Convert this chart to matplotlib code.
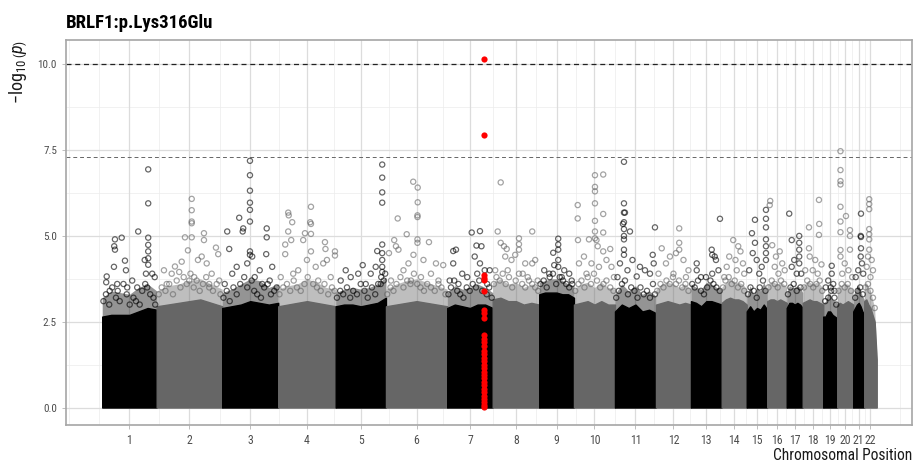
import numpy as np
import matplotlib.pyplot as plt

# ------------------------------------------------------------------
# data
# ------------------------------------------------------------------
TITLE = "BRLF1:p.Lys316Glu"
CHROMS = [str(i) for i in range(1, 23)]
# chromosome widths on the x axis (arbitrary position units)
CHR_LEN = [218, 262, 224, 230, 201, 245, 182, 186, 139, 164, 164,
           140, 123, 100, 82, 78, 64, 82, 56, 64, 44, 50]

# top of the solid mass of points, 7 evenly spaced samples per chromosome
BODY_TOP = [
    [2.65, 2.7, 2.7, 2.7, 2.8, 2.9, 2.85],
    [2.95, 3.0, 3.05, 3.1, 3.15, 3.05, 2.95],
    [2.9, 2.95, 3.0, 3.1, 3.05, 3.0, 3.05],
    [2.95, 3.0, 3.05, 3.1, 3.05, 3.0, 2.95],
    [2.95, 3.0, 3.0, 2.95, 3.0, 3.05, 3.2],
    [2.95, 3.0, 3.05, 3.1, 3.05, 3.0, 2.95],
    [2.9, 3.0, 2.95, 2.9, 3.0, 3.0, 2.9],
    [3.15, 3.2, 3.1, 3.1, 3.0, 3.05, 3.0],
    [3.3, 3.35, 3.35, 3.35, 3.3, 3.3, 3.2],
    [3.0, 3.05, 3.1, 3.0, 3.1, 3.0, 3.0],
    [2.8, 3.0, 2.9, 3.0, 2.8, 2.85, 2.75],
    [3.0, 3.05, 3.1, 3.05, 3.0, 3.05, 3.0],
    [3.1, 3.05, 2.95, 3.1, 3.1, 3.05, 3.0],
    [3.05, 3.15, 3.2, 3.15, 3.15, 3.1, 3.0],
    [2.8, 2.95, 2.8, 2.9, 2.85, 3.0, 2.85],
    [3.1, 3.15, 3.15, 3.1, 3.15, 3.1, 3.05],
    [2.9, 3.05, 3.05, 3.0, 3.05, 3.0, 2.9],
    [3.05, 3.1, 3.15, 3.1, 3.1, 3.05, 3.0],
    [2.65, 2.65, 2.8, 2.8, 2.7, 2.65, 2.6],
    [3.0, 3.05, 3.0, 3.05, 3.1, 3.05, 3.0],
    [2.8, 2.9, 3.0, 3.05, 2.95, 2.8, 2.7],
    [3.1, 3.15, 3.0, 2.9, 2.7, 2.5, 1.4],
]

# haze of overlapping circles above the solid mass
FUZZ_TOP = [
    [3.2, 3.4, 3.35, 3.3, 3.5, 3.6, 3.4],
    [3.4, 3.55, 3.6, 3.7, 3.75, 3.6, 3.45],
    [3.35, 3.45, 3.6, 3.75, 3.7, 3.5, 3.6],
    [3.45, 3.55, 3.6, 3.75, 3.65, 3.5, 3.45],
    [3.35, 3.45, 3.5, 3.45, 3.5, 3.6, 3.8],
    [3.45, 3.6, 3.7, 3.75, 3.65, 3.55, 3.45],
    [3.35, 3.55, 3.45, 3.5, 3.6, 3.5, 3.35],
    [3.65, 3.75, 3.6, 3.65, 3.5, 3.6, 3.5],
    [3.65, 3.7, 3.75, 3.75, 3.7, 3.6, 3.55],
    [3.45, 3.6, 3.65, 3.5, 3.65, 3.5, 3.45],
    [3.3, 3.6, 3.4, 3.55, 3.3, 3.4, 3.25],
    [3.45, 3.6, 3.65, 3.6, 3.5, 3.6, 3.45],
    [3.6, 3.5, 3.45, 3.65, 3.6, 3.5, 3.45],
    [3.5, 3.65, 3.75, 3.65, 3.65, 3.6, 3.45],
    [3.25, 3.55, 3.3, 3.5, 3.4, 3.65, 3.4],
    [3.6, 3.65, 3.65, 3.6, 3.65, 3.6, 3.5],
    [3.35, 3.55, 3.5, 3.5, 3.55, 3.5, 3.35],
    [3.5, 3.65, 3.65, 3.6, 3.65, 3.6, 3.45],
    [3.05, 3.1, 3.35, 3.3, 3.15, 3.1, 3.05],
    [3.45, 3.6, 3.5, 3.6, 3.6, 3.5, 3.45],
    [3.25, 3.4, 3.55, 3.55, 3.4, 3.25, 3.15],
    [3.55, 3.65, 3.5, 3.4, 3.15, 2.9, 1.6],
]

# circles in the ragged band just above the solid mass
BAND_POS = [
    [5, 15, 28, 40, 55, 62, 70, 85, 98, 110, 125, 135, 150, 160, 172, 180, 192, 205, 212],
    [8, 20, 35, 50, 65, 80, 95, 108, 120, 135, 148, 160, 172, 185, 198, 210, 225, 240, 255],
    [5, 18, 30, 45, 58, 72, 88, 100, 118, 128, 140, 155, 168, 182, 195, 208, 218],
    [5, 20, 35, 48, 62, 75, 90, 105, 118, 140, 155, 170, 185, 200, 215, 225],
    [5, 18, 30, 45, 58, 70, 85, 100, 115, 128, 145, 158, 170, 182, 192, 198],
    [5, 18, 30, 42, 58, 70, 85, 98, 112, 125, 138, 152, 165, 180, 195, 210, 222, 238],
    [5, 15, 28, 40, 52, 65, 78, 90, 102, 115, 128, 140, 158, 168, 178],
    [5, 15, 28, 40, 52, 65, 78, 92, 105, 118, 130, 145, 158, 170, 182],
    [5, 18, 30, 42, 55, 68, 82, 95, 108, 120, 132],
    [5, 18, 30, 42, 55, 68, 80, 92, 105, 118, 130, 145, 158],
    [5, 15, 28, 40, 52, 65, 78, 90, 102, 115, 128, 140, 152, 160],
    [5, 18, 30, 42, 55, 68, 80, 92, 105, 118, 130],
    [5, 15, 28, 40, 52, 65, 78, 90, 102, 115],
    [5, 15, 28, 40, 52, 65, 78, 90],
    [5, 15, 28, 40, 52, 65, 75],
    [5, 18, 30, 42, 55, 68],
    [5, 15, 28, 40, 55],
    [5, 18, 30, 42, 55, 68, 78],
    [8, 20, 32, 45, 52],
    [5, 18, 30, 42, 55],
    [8, 18, 28, 38],
    [5, 15, 25, 35, 42],
]
BAND_LOGP = [
    [3.1, 3.3, 3.0, 3.5, 3.2, 3.4, 3.1, 3.6, 3.3, 3.0, 3.2, 3.1, 3.0, 3.4, 3.6, 3.5, 3.3, 3.2, 3.0],
    [3.3, 3.5, 3.4, 3.6, 3.3, 3.7, 3.5, 3.8, 3.6, 3.9, 3.5, 3.7, 3.4, 3.6, 3.8, 3.5, 3.4, 3.6, 3.3],
    [3.2, 3.4, 3.1, 3.5, 3.3, 3.6, 3.8, 3.5, 3.7, 3.4, 3.3, 3.2, 3.5, 3.6, 3.3, 3.4, 3.5],
    [3.3, 3.5, 3.6, 3.4, 3.7, 3.5, 3.4, 3.6, 3.8, 3.6, 3.5, 3.4, 3.6, 3.3, 3.5, 3.4],
    [3.2, 3.4, 3.3, 3.5, 3.2, 3.4, 3.3, 3.6, 3.4, 3.2, 3.5, 3.3, 3.6, 3.8, 3.7, 3.9],
    [3.3, 3.5, 3.4, 3.6, 3.8, 3.5, 3.7, 3.6, 3.9, 3.6, 3.5, 3.4, 3.6, 3.5, 3.4, 3.6, 3.5, 3.3],
    [3.3, 3.5, 3.7, 3.4, 3.3, 3.2, 3.5, 3.4, 3.6, 3.5, 3.7, 3.4, 3.3, 3.5, 3.2],
    [3.6, 3.8, 3.7, 3.9, 3.6, 3.8, 3.5, 3.7, 3.9, 3.6, 3.5, 3.7, 3.6, 3.5, 3.4],
    [3.6, 3.7, 3.5, 3.8, 3.9, 3.6, 3.8, 3.7, 3.6, 3.5, 3.6],
    [3.4, 3.6, 3.7, 3.5, 3.8, 3.6, 3.9, 3.7, 3.5, 3.6, 3.7, 3.5, 3.4],
    [3.2, 3.4, 3.6, 3.7, 3.3, 3.5, 3.4, 3.2, 3.5, 3.3, 3.4, 3.2, 3.6, 3.3],
    [3.4, 3.6, 3.5, 3.7, 3.6, 3.8, 3.6, 3.7, 3.5, 3.6, 3.4],
    [3.6, 3.5, 3.7, 3.4, 3.3, 3.5, 3.7, 3.6, 3.5, 3.4],
    [3.5, 3.7, 3.8, 3.6, 3.7, 3.5, 3.6, 3.4],
    [3.3, 3.5, 3.4, 3.2, 3.5, 3.7, 3.4],
    [3.5, 3.7, 3.6, 3.5, 3.7, 3.6],
    [3.3, 3.5, 3.6, 3.4, 3.5],
    [3.5, 3.7, 3.6, 3.5, 3.6, 3.7, 3.4],
    [3.1, 3.2, 3.4, 3.2, 3.0],
    [3.4, 3.6, 3.5, 3.6, 3.4],
    [3.2, 3.4, 3.5, 3.3],
    [3.5, 3.6, 3.4, 3.2, 2.9],
]

# individual points higher up: position within chromosome, -log10(p)
PEAK_POS = [
    [184, 184, 184, 184, 184, 184, 184, 144, 51, 78, 48, 51, 91, 47, 18, 16, 95, 170, 175, 200, 210, 120, 60, 140, 30, 100],
    [140, 140, 140, 140, 113, 140, 189, 189, 237, 246, 73, 29, 125, 180, 165, 200, 100, 60, 90, 220, 150, 250, 40, 130, 210],
    [111, 111, 111, 111, 111, 111, 111, 111, 68, 84, 82, 20, 28, 178, 178, 176, 58, 120, 100, 150, 200, 40, 130, 190, 10, 160],
    [40, 42, 56, 40, 52, 28, 28, 131, 128, 131, 131, 107, 100, 131, 187, 189, 227, 227, 195, 180, 150, 80, 115, 60, 10, 210, 160],
    [186, 186, 186, 186, 186, 186, 186, 186, 186, 166, 108, 60, 90, 40, 140, 160, 20, 120, 180],
    [109, 127, 127, 126, 126, 126, 126, 47, 83, 33, 172, 40, 50, 110, 12, 229, 150, 200, 90, 70, 180, 140, 20, 210, 100],
    [98, 131, 24, 35, 117, 137, 131, 24, 110, 60, 80, 150, 170, 10, 45, 160, 120],
    [32, 20, 158, 105, 105, 105, 32, 45, 56, 50, 158, 90, 75, 130, 170, 10, 60, 120, 140, 180],
    [76, 76, 56, 76, 76, 20, 76, 100, 120, 40, 60, 90, 130],
    [84, 84, 84, 84, 84, 84, 84, 117, 117, 117, 15, 15, 16, 90, 95, 117, 145, 60, 40, 130, 150, 70, 20, 100, 50, 160],
    [36, 36, 36, 36, 36, 36, 36, 36, 36, 32, 40, 60, 87, 151, 160, 155, 120, 100, 70, 20, 50, 140, 10],
    [93, 93, 93, 23, 56, 80, 110, 40, 130, 10, 70, 120],
    [116, 83, 85, 95, 23, 23, 85, 60, 110, 40, 100],
    [46, 66, 75, 30, 55, 85, 20, 60, 90, 10],
    [21, 33, 77, 77, 77, 77, 77, 77, 77, 33, 24, 40, 60, 10, 50],
    [12, 10, 20, 50, 35, 60, 70, 30, 45],
    [10, 20, 50, 50, 50, 50, 50, 30, 20, 58, 40],
    [25, 65, 66, 65, 25, 75, 28, 50, 40, 10, 60],
    [34, 34, 20, 40, 30, 10, 45],
    [13, 13, 13, 13, 13, 13, 13, 13, 13, 35, 51, 51, 51, 30, 45, 20, 60],
    [31, 30, 31, 31, 30, 35, 20, 10, 40],
    [20, 20, 20, 20, 20, 20, 20, 15, 30, 10, 35, 25],
]
PEAK_LOGP = [
    [6.94, 5.95, 4.95, 4.74, 4.55, 4.35, 4.16, 5.13, 4.9, 4.95, 4.7, 4.6, 4.28, 4.1, 3.82, 3.65, 4.0, 4.3, 3.9, 3.9, 3.8, 3.7, 3.6, 3.5, 3.4, 3.5],
    [6.08, 5.75, 5.42, 5.37, 4.96, 4.96, 5.08, 4.88, 4.66, 4.47, 4.11, 4.0, 4.58, 4.4, 4.3, 4.2, 4.25, 3.9, 3.95, 3.9, 3.8, 3.7, 3.6, 3.7, 3.6],
    [7.19, 6.77, 6.32, 5.97, 5.76, 5.42, 4.55, 4.45, 5.53, 5.22, 5.13, 5.13, 4.62, 5.22, 4.96, 4.47, 4.1, 4.4, 4.2, 4.0, 4.1, 3.9, 3.8, 3.7, 3.6, 3.6],
    [5.68, 5.6, 5.40, 5.13, 4.88, 4.75, 4.47, 5.85, 5.40, 5.35, 5.06, 5.08, 4.88, 4.55, 4.82, 4.62, 4.55, 4.43, 4.3, 4.2, 4.1, 4.0, 4.3, 3.9, 3.8, 3.8, 3.7],
    [7.08, 6.70, 6.27, 5.97, 4.75, 4.5, 4.3, 4.1, 3.95, 4.56, 4.15, 3.8, 3.9, 4.0, 3.9, 4.1, 3.7, 3.6, 3.6],
    [6.58, 6.41, 5.98, 5.6, 5.55, 4.9, 4.8, 5.51, 5.05, 4.88, 4.82, 4.7, 4.6, 4.45, 4.5, 4.15, 4.3, 4.2, 4.2, 4.0, 3.9, 3.8, 3.7, 3.7, 3.7],
    [5.10, 5.14, 4.56, 4.6, 4.72, 4.7, 4.2, 4.2, 4.4, 3.9, 3.8, 4.0, 4.0, 3.7, 3.6, 3.6, 3.9],
    [6.56, 5.13, 5.13, 4.93, 4.76, 4.6, 4.8, 4.7, 4.62, 4.4, 4.2, 4.45, 4.3, 4.2, 4.3, 4.0, 4.0, 3.9, 3.8, 3.7],
    [4.92, 4.75, 4.51, 4.6, 4.3, 4.0, 4.1, 4.0, 3.9, 3.9, 4.15, 3.8, 3.7],
    [6.77, 6.43, 6.3, 5.95, 5.44, 5.13, 4.93, 6.79, 5.64, 5.10, 5.90, 5.51, 4.88, 4.88, 4.7, 4.55, 4.62, 4.9, 4.4, 4.3, 4.1, 4.2, 4.2, 4.1, 3.9, 3.8],
    [7.16, 5.95, 5.68, 5.4, 5.2, 5.0, 4.9, 4.6, 4.45, 5.35, 5.68, 5.13, 3.82, 4.45, 5.25, 4.2, 4.0, 4.1, 4.3, 4.2, 4.0, 3.9, 3.8],
    [5.22, 4.8, 4.6, 4.64, 4.4, 4.5, 4.3, 4.2, 4.0, 3.9, 3.9, 3.8],
    [5.50, 4.6, 4.45, 4.4, 4.2, 4.0, 3.9, 3.8, 4.0, 3.8, 4.3],
    [4.88, 4.7, 4.55, 4.4, 4.3, 4.2, 4.1, 4.0, 3.9, 3.8],
    [5.08, 5.47, 5.76, 5.5, 5.25, 4.9, 4.7, 4.5, 4.3, 4.8, 4.5, 4.3, 4.1, 4.0, 3.9],
    [6.02, 5.9, 4.73, 4.55, 4.4, 4.2, 4.0, 4.1, 3.9],
    [5.65, 4.88, 5.0, 4.8, 4.6, 4.4, 4.2, 4.3, 4.1, 3.9, 3.9],
    [5.25, 6.05, 5.35, 5.03, 4.64, 4.17, 4.4, 4.3, 4.0, 4.0, 3.9],
    [4.13, 3.9, 3.7, 3.6, 3.5, 3.5, 3.4],
    [7.47, 6.92, 6.6, 6.5, 5.85, 5.42, 5.11, 4.59, 4.4, 5.58, 5.17, 5.0, 4.6, 4.2, 4.0, 3.9, 3.8],
    [5.65, 5.0, 4.97, 4.64, 4.4, 4.2, 4.0, 3.8, 3.9],
    [6.07, 5.93, 5.78, 5.2, 5.05, 4.9, 4.6, 4.4, 4.3, 4.1, 4.0, 3.8],
]

# highlighted variant column (red) on chromosome 7
HIT_CHR = "7"
HIT_POS = 147
HIT_LOGP = [10.17, 7.94, 3.85, 3.78, 3.72, 3.41, 2.85, 2.75, 2.6, 2.1, 2.0, 1.9, 1.8,
            1.65, 1.55, 1.45, 1.35, 1.25, 1.15, 1.05, 0.95, 0.85, 0.75, 0.65,
            0.55, 0.45, 0.35, 0.25, 0.15, 0.08, 0.03]

GENOME_WIDE = 10.0
SUGGESTIVE = 7.3

# ------------------------------------------------------------------
plt.rcParams['font.family'] = ['Roboto Condensed', 'DejaVu Sans']
plt.rcParams['mathtext.fontset'] = 'custom'
plt.rcParams['mathtext.rm'] = 'Roboto Condensed'
plt.rcParams['mathtext.it'] = 'Roboto Condensed:italic'

fig = plt.figure(figsize=(9.16, 4.63), dpi=100)
ax = fig.add_axes([0.072, 0.082, 0.9236, 0.8316])

starts = np.concatenate([[0], np.cumsum(CHR_LEN)[:-1]])
total = float(np.sum(CHR_LEN))
centers = starts + np.array(CHR_LEN) / 2.0
colors = ['#000000' if i % 2 == 0 else '#666666' for i in range(len(CHROMS))]

# grid (ggplot theme_light look), minor breaks halfway between majors
step = centers[1] - centers[0]
ext = np.concatenate([[centers[0] - step], centers, [centers[-1] + step]])
xminor = np.sort(np.concatenate([ext, (ext[:-1] + ext[1:]) / 2]))
for xv in xminor:
    ax.axvline(xv, color='#ececec', lw=0.5, zorder=0)
for yv in [1.25, 3.75, 6.25, 8.75]:
    ax.axhline(yv, color='#ececec', lw=0.5, zorder=0)
for xv in centers:
    ax.axvline(xv, color='#dcdcdc', lw=0.9, zorder=0)
for yv in [0, 2.5, 5, 7.5, 10]:
    ax.axhline(yv, color='#dcdcdc', lw=0.9, zorder=0)

for i, ch in enumerate(CHROMS):
    s, L, c = starts[i], CHR_LEN[i], colors[i]
    xs = s + np.linspace(0, L, len(BODY_TOP[i]))
    ax.fill_between(xs, 0, FUZZ_TOP[i], color=c, alpha=0.42, lw=0, zorder=2)
    ax.fill_between(xs, 0, BODY_TOP[i], color=c, lw=1.0, edgecolor=c, zorder=3)
    ax.scatter(s + np.array(BAND_POS[i]), BAND_LOGP[i], s=14, facecolors='none',
               edgecolors=c, linewidths=0.9, alpha=0.6, zorder=4)
    ax.scatter(s + np.array(PEAK_POS[i]), PEAK_LOGP[i], s=14, facecolors='none',
               edgecolors=c, linewidths=0.9, alpha=0.6, zorder=4)

hi = CHROMS.index(HIT_CHR)
ax.scatter(np.full(len(HIT_LOGP), starts[hi] + HIT_POS), HIT_LOGP, s=20,
           color='#ff0000', lw=0, zorder=5)

ax.axhline(GENOME_WIDE, color='#222222', lw=0.9, ls=(0, (4, 3)), zorder=1)
ax.axhline(SUGGESTIVE, color='#666666', lw=0.7, ls=(0, (4, 3)), zorder=1)

ax.set_xlim(-145, total + 141)
ax.set_ylim(-0.51, 10.71)
ax.set_xticks(centers)
ax.set_xticklabels(CHROMS)
ax.set_yticks([0, 2.5, 5, 7.5, 10])
ax.set_yticklabels(['0.0', '2.5', '5.0', '7.5', '10.0'])
ax.tick_params(colors='#b3b3b3', labelcolor='#4d4d4d', labelsize=8.5,
               length=3, width=0.6)
ax.tick_params(axis='y', labelsize=8)
for sp in ax.spines.values():
    sp.set_color('#a6a6a6')
    sp.set_linewidth(1.2)

ax.set_xlabel('Chromosomal Position', fontsize=11.2, loc='right', labelpad=1,
              color='#1a1a1a')
ax.set_ylabel('\u2212' + r'$\log_{10}\left(p\right)$', fontsize=13, loc='top',
              labelpad=6, color='#1a1a1a')
ax.set_title(TITLE, fontsize=13.5, fontweight='bold', loc='left', pad=9)

fig.savefig('out.png', dpi=100)
